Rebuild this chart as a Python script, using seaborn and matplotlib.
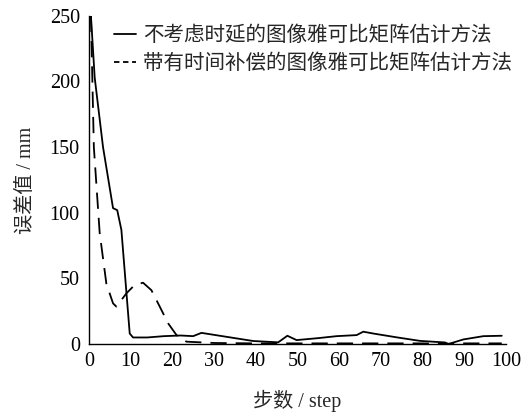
import numpy as np
import pandas as pd
import matplotlib
matplotlib.use("Agg")
import matplotlib.pyplot as plt
import seaborn as sns

# solid curve: image Jacobian without time delay
steps_a = [0.5, 1.4, 3.4, 5.8, 6.8, 7.8, 9.8, 10.6, 14, 18, 22, 25, 27, 30, 35, 39.4,
           45.4, 47.6, 49.8, 55, 59.4, 64.2, 65.8, 68.2, 74, 79.4, 85.4, 86.2, 89.8, 94.6, 99]
err_a = [250, 203, 150, 103.5, 102, 87, 8, 5, 5, 6, 6.5, 6, 8.5, 7, 4.5, 2.3,
         1.3, 6.3, 3, 4.5, 6, 6.8, 9.4, 8, 5, 2.4, 1.2, 0, 3.5, 6, 6.3]

# dashed curve: image Jacobian with time compensation
steps_b = [0.5, 1.2, 2.6, 4.2, 5.8, 6.6, 7.8, 9, 11, 13, 15, 17, 19, 21, 23.4,
           30, 40, 50, 60, 70, 80, 86, 90, 99]
err_b = [250, 150, 84.5, 46, 31, 28.5, 33.5, 38.6, 45, 46.7, 41, 28.5, 15.8, 6.9, 1.8,
         0.8, 0.5, 0.5, 0.5, 0.5, 0.5, 0.2, 0.5, 0.5]

label_a = "不考虑时延的图像雅可比矩阵估计方法"
label_b = "带有时间补偿的图像雅可比矩阵估计方法"

sns.set_style("white")
fonts = ['Liberation Serif', 'Noto Sans CJK SC']
plt.rcParams['font.family'] = fonts

fig = plt.figure(figsize=(5.32, 4.16), dpi=100)
ax = fig.add_axes([0.167, 0.173, 0.784, 0.789])

sns.lineplot(x=steps_a, y=err_a, ax=ax, color='black', linewidth=1.3, label=label_a)
sns.lineplot(x=steps_b, y=err_b, ax=ax, color='black', linewidth=1.3,
             label=label_b, dashes=False)
ax.lines[1].set_dashes([9, 5])

ax.set_xlim(0, 100)
ax.set_ylim(0, 250)
ax.set_xticks(range(0, 101, 10))
ax.set_yticks(range(0, 251, 50))
ax.tick_params(direction='in', length=5, width=1, labelsize=14.5, colors='black')
ax.tick_params(axis='y', pad=6.5)
ax.tick_params(axis='x', pad=5.5)
for s in ['top', 'right']:
    ax.spines[s].set_visible(False)
for s in ['left', 'bottom']:
    ax.spines[s].set_color('black')
    ax.spines[s].set_linewidth(1)

ax.set_xlabel("步数 / step", fontsize=14.5, family=fonts, labelpad=14)
ax.set_ylabel("误差值 / mm", fontsize=14.5, family=fonts, labelpad=10)

leg = ax.legend(loc='upper left', bbox_to_anchor=(0.06, 0.975), frameon=False,
                handlelength=1.1, handletextpad=0.3, borderaxespad=0, borderpad=0,
                labelspacing=0.3, prop={'family': ['Noto Sans CJK SC'], 'size': 14.8})
leg.get_lines()[1].set_dashes([3, 2])

fig.savefig("out.png", dpi=100)
